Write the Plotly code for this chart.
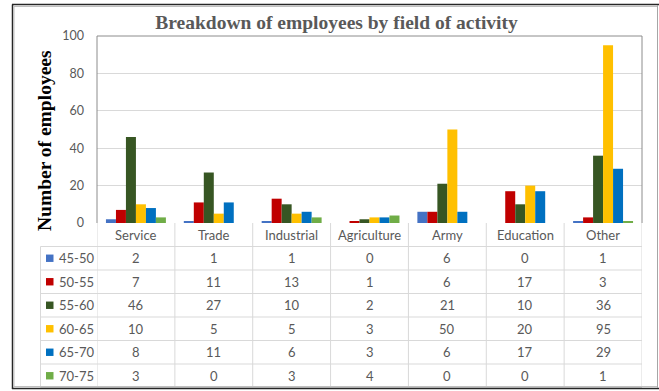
import plotly.graph_objects as go

# Fields of activity (x categories)
categories = ["Service", "Trade", "Industrial", "Agriculture", "Army", "Education", "Other"]

# Age groups and their counts per field
age_groups = ["45-50", "50-55", "55-60", "60-65", "65-70", "70-75"]
counts_45_50 = [2, 1, 1, 0, 6, 0, 1]
counts_50_55 = [7, 11, 13, 1, 6, 17, 3]
counts_55_60 = [46, 27, 10, 2, 21, 10, 36]
counts_60_65 = [10, 5, 5, 3, 50, 20, 95]
counts_65_70 = [8, 11, 6, 3, 6, 17, 29]
counts_70_75 = [3, 0, 3, 4, 0, 0, 1]
series = [counts_45_50, counts_50_55, counts_55_60, counts_60_65, counts_65_70, counts_70_75]

colors = ["#4472C4", "#C00000", "#375623", "#FFC000", "#0070C0", "#70AD47"]

y_ticks = [0, 20, 40, 60, 80, 100]

# Figure geometry (pixels)
FIG_W, FIG_H = 659, 391
L, R, T, B = 97, 17, 36, 168
PW = FIG_W - L - R
PH = FIG_H - T - B

def px_x(px):
    return (px - L) / PW

def px_y(py):
    return (T + PH - py) / PH

SANS = "Lato"
SERIF = "Liberation Serif"
TXT = "#595959"
GRID = "#D9D9D9"

fig = go.Figure()
for name, vals, col in zip(age_groups, series, colors):
    fig.add_trace(go.Bar(x=categories, y=vals, name=name,
                         marker=dict(color=col, line=dict(width=0))))

shapes = []
annotations = []

# Plot area frame (left, top, right)
for x0, y0, x1, y1 in [(0, 0, 0, 1), (0, 1, 1, 1), (1, 0, 1, 1)]:
    shapes.append(dict(type="line", xref="paper", yref="paper", x0=x0, y0=y0, x1=x1, y1=y1,
                       line=dict(color="#8C8C8C", width=1)))

# Data table grid
header_bottom = 246.5
row_h = 23.5
n_rows = len(age_groups)
table_left = 40.5
table_bottom = header_bottom + n_rows * row_h
row_lines = [header_bottom + i * row_h for i in range(n_rows + 1)]
for py in row_lines:
    shapes.append(dict(type="line", xref="paper", yref="paper",
                       x0=px_x(table_left), x1=1, y0=px_y(py), y1=px_y(py),
                       line=dict(color=GRID, width=1)))
# vertical lines: category boundaries
for i in range(len(categories) + 1):
    shapes.append(dict(type="line", xref="x", yref="paper",
                       x0=i - 0.5, x1=i - 0.5, y0=px_y(223), y1=px_y(table_bottom),
                       line=dict(color=GRID, width=1)))
shapes.append(dict(type="line", xref="paper", yref="paper",
                   x0=px_x(table_left), x1=px_x(table_left), y0=px_y(header_bottom), y1=px_y(table_bottom),
                   line=dict(color=GRID, width=1)))

# Category header labels
for c in categories:
    annotations.append(dict(x=c, xref="x", y=px_y(235), yref="paper", text=c, showarrow=False,
                            font=dict(family=SANS, size=13, color=TXT), xanchor="center", yanchor="middle"))

# Row labels, legend keys and values
for r, (name, vals, col) in enumerate(zip(age_groups, series, colors)):
    cy = header_bottom + row_h * (r + 0.5)
    shapes.append(dict(type="rect", xref="paper", yref="paper",
                       x0=px_x(46), x1=px_x(53.5), y0=px_y(cy + 3.7), y1=px_y(cy - 3.7),
                       fillcolor=col, line=dict(width=0)))
    annotations.append(dict(x=px_x(56.5), xref="paper", y=px_y(cy), yref="paper", text=name,
                            showarrow=False, xanchor="left", yanchor="middle",
                            font=dict(family=SANS, size=13, color=TXT)))
    for c, v in zip(categories, vals):
        annotations.append(dict(x=c, xref="x", y=px_y(cy), yref="paper", text=str(v), showarrow=False,
                                xanchor="center", yanchor="middle",
                                font=dict(family=SANS, size=13, color=TXT)))

# Outer chart border
shapes += [
    dict(type="line", xref="paper", yref="paper", x0=px_x(12.5), x1=px_x(12.5), y0=px_y(4.5), y1=px_y(389),
         line=dict(color="#262626", width=1.5)),
    dict(type="line", xref="paper", yref="paper", x0=px_x(12), x1=px_x(659), y0=px_y(4.5), y1=px_y(4.5),
         line=dict(color="#262626", width=1.5)),
    dict(type="line", xref="paper", yref="paper", x0=px_x(12), x1=px_x(659), y0=px_y(388.5), y1=px_y(388.5),
         line=dict(color="#262626", width=1.5)),
    dict(type="line", xref="paper", yref="paper", x0=px_x(657.5), x1=px_x(657.5), y0=px_y(5), y1=px_y(388),
         line=dict(color="#A6A6A6", width=1)),
    dict(type="line", xref="paper", yref="paper", x0=px_x(14), x1=px_x(14), y0=px_y(6.5), y1=px_y(387),
         line=dict(color="#BFBFBF", width=1)),
    dict(type="line", xref="paper", yref="paper", x0=px_x(14), x1=px_x(657), y0=px_y(6.5), y1=px_y(6.5),
         line=dict(color="#BFBFBF", width=1)),
    dict(type="line", xref="paper", yref="paper", x0=px_x(14), x1=px_x(657), y0=px_y(386.5), y1=px_y(386.5),
         line=dict(color="#BFBFBF", width=1)),
]

# Axis title
annotations.append(dict(x=px_x(44), xref="paper", y=px_y(141), yref="paper",
                        text="<b>Number of employees</b>", textangle=-90, showarrow=False,
                        xanchor="center", yanchor="middle",
                        font=dict(family=SERIF, size=19.5, color="#000000")))

fig.update_layout(
    width=FIG_W, height=FIG_H,
    margin=dict(l=L, r=R, t=T, b=B, pad=0),
    template="none",
    paper_bgcolor="white", plot_bgcolor="white",
    showlegend=False,
    barmode="group", bargap=0.23, bargroupgap=0,
    title=dict(text="<b>Breakdown of employees by field of activity</b>",
               x=336.5 / FIG_W, xanchor="center", y=1 - 22 / FIG_H, yanchor="middle",
               font=dict(family=SERIF, size=19.5, color=TXT)),
    xaxis=dict(showticklabels=False, showgrid=False, zeroline=False, showline=False, ticks="",
               range=[-0.5, len(categories) - 0.5]),
    yaxis=dict(range=[0, 100], tickvals=y_ticks, showgrid=True, gridcolor=GRID, gridwidth=1,
               zeroline=False, showline=False, ticks="", ticklabelstandoff=12,
               tickfont=dict(family=SANS, size=12.5, color=TXT)),
    shapes=shapes,
    annotations=annotations,
)

fig.write_html("out.html")
